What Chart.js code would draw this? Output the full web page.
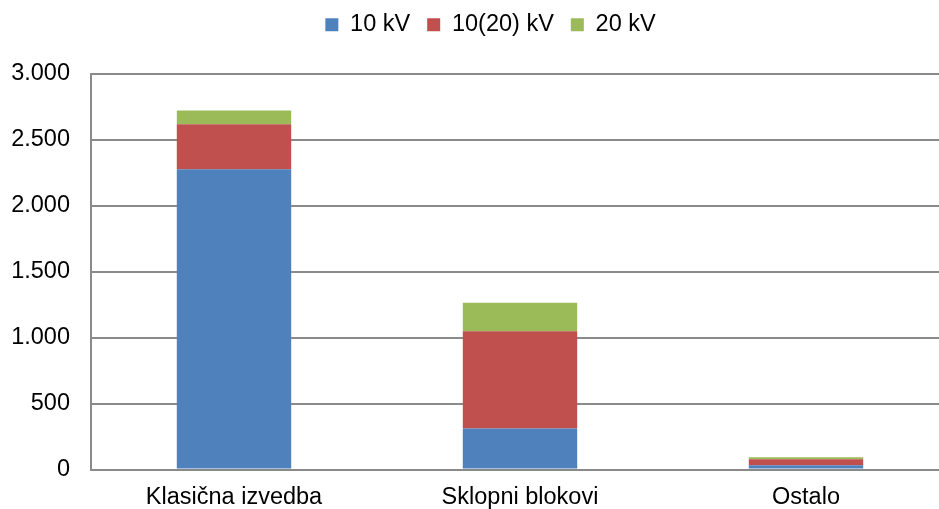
<!DOCTYPE html>
<html>
<head>
<meta charset="utf-8">
<script src="https://cdn.jsdelivr.net/npm/chart.js@4"></script>
<style>
  html, body { margin: 0; padding: 0; background: #fff; overflow: hidden; }
  #wrap { width: 950px; height: 509px; }
</style>
</head>
<body>
<div id="wrap"><canvas id="myChart" width="950" height="509"></canvas></div>
<script>
var categories = ['Klasična izvedba', 'Sklopni blokovi', 'Ostalo'];
var kv10 = [2275, 310, 33];
var kv10_20 = [340, 738, 45];
var kv20 = [105, 215, 15];

var fontFamily = '"Liberation Sans", Arial, sans-serif';
var gridColor = '#8a8a8a';

function thousands(v) {
    return String(v).replace(/\B(?=(\d{3})+(?!\d))/g, '.');
}

// push the plot area down below the legend, and nudge the legend right
var legendSpace = {
    id: 'legendSpace',
    beforeInit: function (chart) {
        var fit = chart.legend.fit;
        chart.legend.fit = function () {
            fit.bind(chart.legend)();
            this.height += 27;
        };
    },
    afterLayout: function (chart) {
        chart.legend.left += 16;
        chart.legend.right += 16;
    }
};

var ctx1 = document.getElementById('myChart').getContext('2d');
var myChart = new Chart(ctx1, {
    type: 'bar',
    data: {
        labels: categories,
        datasets: [{
            label: '10 kV',
            data: kv10,
            backgroundColor: '#4F81BD'
        }, {
            label: '10(20) kV',
            data: kv10_20,
            backgroundColor: '#C0504D'
        }, {
            label: '20 kV',
            data: kv20,
            backgroundColor: '#9BBB59'
        }]
    },
    options: {
        responsive: false,
        animation: false,
        barPercentage: 0.4,
        categoryPercentage: 1,
        layout: { padding: { left: 0, right: 1, top: -4, bottom: 0 } },
        plugins: {
            legend: {
                position: 'top',
                labels: {
                    boxWidth: 13,
                    boxHeight: 13,
                    padding: 17,
                    color: '#000',
                    font: { family: fontFamily, size: 23.5 }
                }
            },
            tooltip: { enabled: false }
        },
        scales: {
            x: {
                stacked: true,
                grid: { display: false, drawTicks: false },
                border: { display: true, color: gridColor, width: 2 },
                ticks: {
                    color: '#000',
                    padding: 14,
                    maxRotation: 0,
                    font: { family: fontFamily, size: 23.5 }
                },
                afterFit: function (scale) { scale.height = 39.5; }
            },
            y: {
                stacked: true,
                min: 0,
                max: 3000,
                grid: { color: gridColor, lineWidth: 2, drawTicks: false },
                border: { display: true, color: gridColor, width: 2 },
                ticks: {
                    stepSize: 500,
                    color: '#000',
                    padding: 21,
                    font: { family: fontFamily, size: 23.5 },
                    callback: function (v) { return thousands(v); }
                },
                afterFit: function (scale) { scale.width = 91; }
            }
        }
    },
    plugins: [legendSpace]
});
</script>
</body>
</html>
